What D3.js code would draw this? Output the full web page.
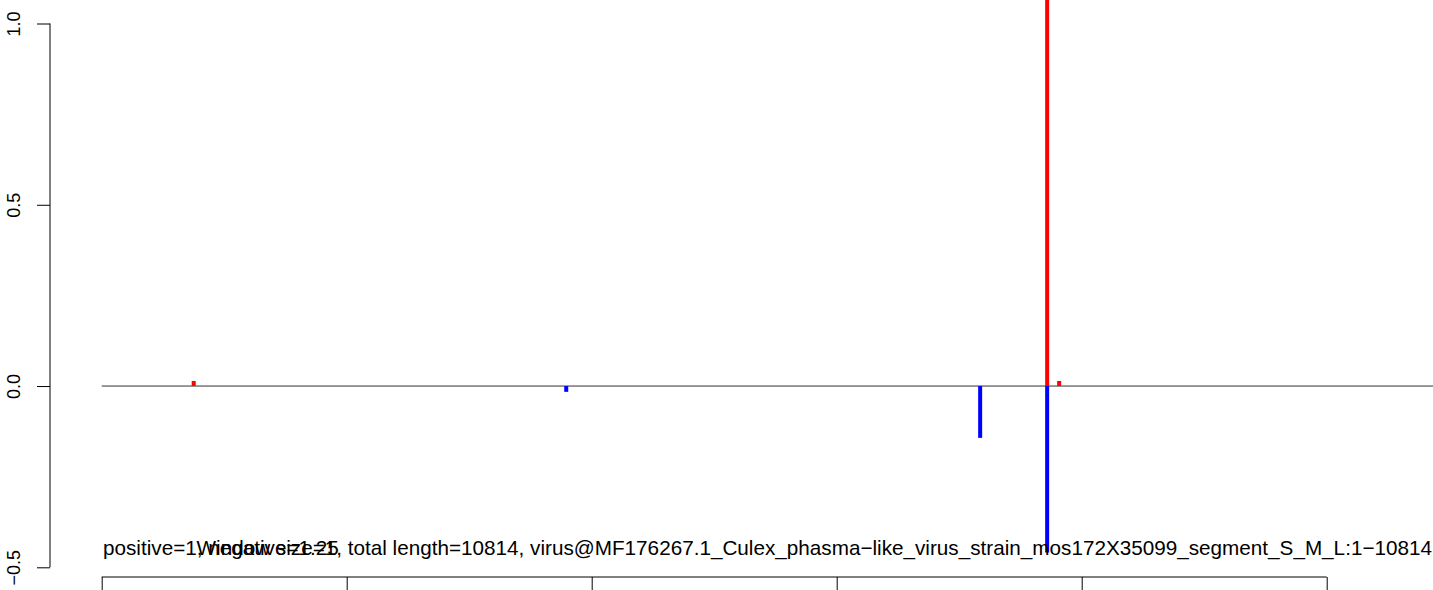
<!DOCTYPE html>
<html><head><meta charset="utf-8">
<script src="https://cdn.jsdelivr.net/npm/d3@7"></script>
<style>body{margin:0;background:#fff}svg{display:block}text{font-family:"Liberation Sans",Arial,sans-serif}</style>
</head><body><svg id="c" width="1433" height="590"></svg>
<script>
const positions = [751, 3792, 7171, 7718, 7718, 7816];
const values    = [0.014, -0.016, -0.143, 1.12, -0.459, 0.014];
const strands   = ["pos", "neg", "neg", "pos", "neg", "pos"];
const xTicks = [0, 2000, 4000, 6000, 8000, 10000];
const yTicks = [-0.5, 0.0, 0.5, 1.0];
const yTickLabels = ["\u22120.5", "0.0", "0.5", "1.0"];
const leftText = "positive=1, negative=1.25";
const rightText = "Window size=1, total length=10814, virus@MF176267.1_Culex_phasma\u2212like_virus_strain_mos172X35099_segment_S_M_L:1\u221210814";

const svg = d3.select("#c");
const x = d3.scaleLinear().domain([0, 10000]).range([101.7, 1326.7]);
const y = d3.scaleLinear().domain([-0.5, 1.0]).range([567.3, 23.5]);

// zero line
svg.append("line").attr("x1", x(0)).attr("x2", 1433).attr("y1", y(0)).attr("y2", y(0))
  .attr("stroke", "#333").attr("stroke-width", 1);

// bars
svg.selectAll("line.bar").data(positions.map((p, i) => ({p, v: values[i], s: strands[i]})))
  .enter().append("line").attr("class", "bar")
  .attr("x1", d => x(d.p)).attr("x2", d => x(d.p))
  .attr("y1", y(0)).attr("y2", d => y(d.v))
  .attr("stroke", d => d.s === "pos" ? "#ff0000" : "#0000ff")
  .attr("stroke-width", 4);

// y axis
const yAxis = d3.axisLeft(y).tickValues(yTicks).tickSize(13).tickFormat((d, i) => yTickLabels[i]);
const gy = svg.append("g").attr("transform", "translate(50,0)").call(yAxis);
gy.select(".domain").attr("d", `M0,${y(-0.5)}V${y(1.0)}`).attr("stroke", "#000");
gy.selectAll(".tick line").attr("stroke", "#000");
gy.selectAll(".tick text").attr("fill", "#000").style("font-size", "18px")
  .attr("text-anchor", "middle").attr("dy", null)
  .attr("transform", "rotate(-90)").attr("x", 0).attr("y", -30);

// x axis
const xAxis = d3.axisBottom(x).tickValues(xTicks).tickSize(14).tickFormat("");
const gx = svg.append("g").attr("transform", `translate(0,577)`).call(xAxis);
gx.select(".domain").attr("d", `M${x(0)},0H${x(10000)}`).attr("stroke", "#000");
gx.selectAll(".tick line").attr("stroke", "#000");

// texts
svg.append("text").attr("x", 103).attr("y", 555).style("font-size", "20.7px").text(leftText);
svg.append("text").attr("x", 1432).attr("y", 555).attr("text-anchor", "end").style("font-size", "20.7px").text(rightText);
</script></body></html>
